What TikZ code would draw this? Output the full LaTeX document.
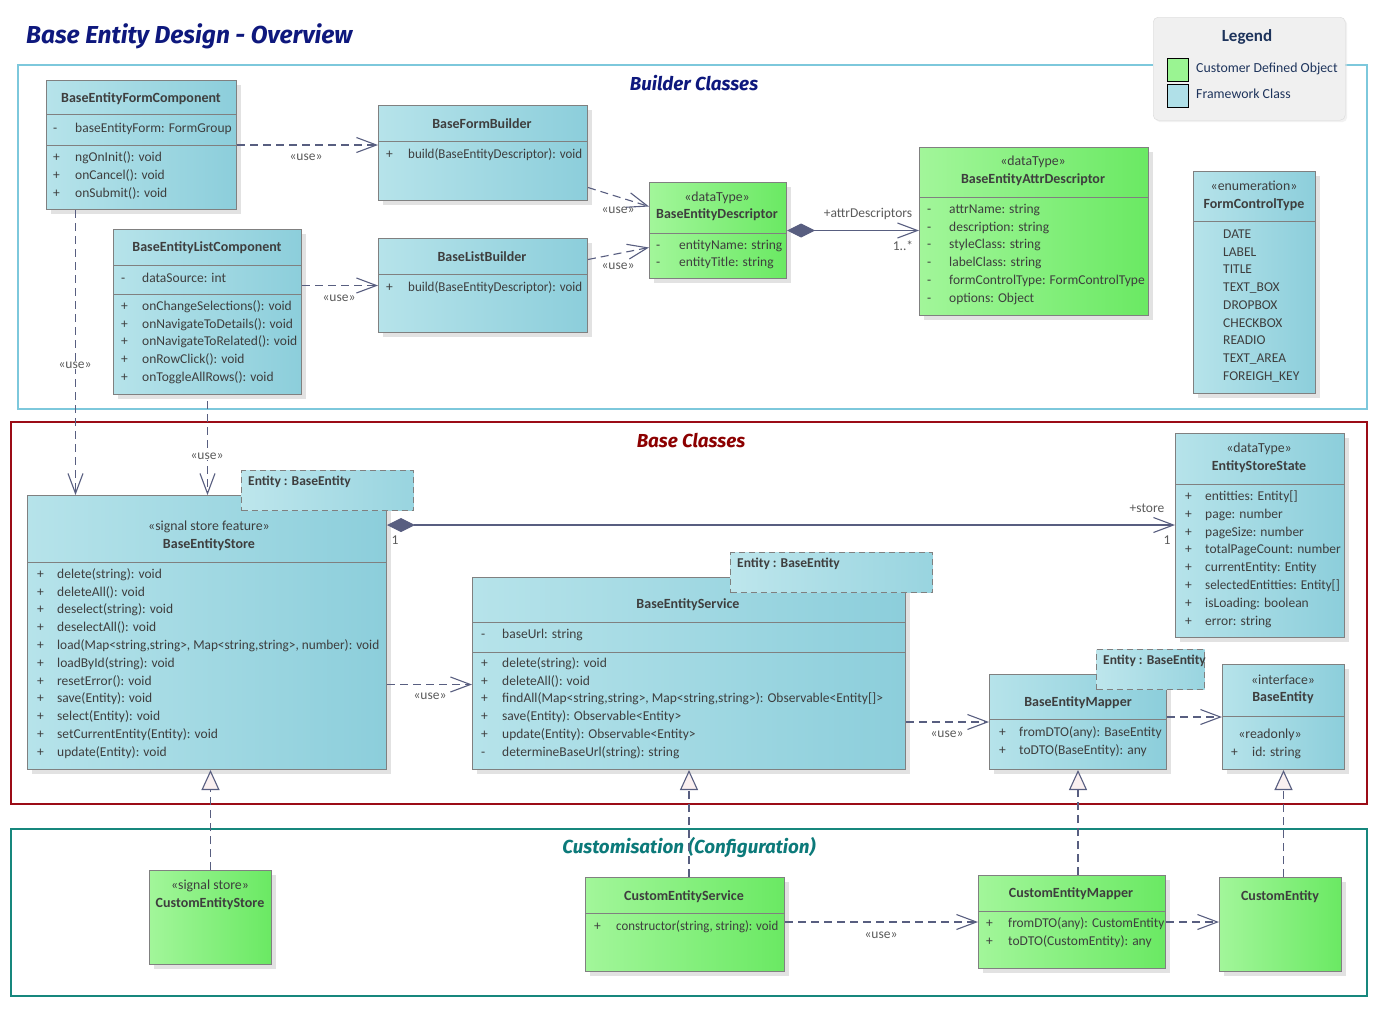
\documentclass[tikz,border=0pt]{standalone}
\usepackage{fontspec}
\setmainfont{Carlito}
\newfontfamily\ttlfont{Fira Sans}
\usetikzlibrary{arrows.meta,shadows}

\definecolor{cyL}{RGB}{182,227,234}
\definecolor{cyR}{RGB}{140,206,219}
\definecolor{grL}{RGB}{162,246,154}
\definecolor{grR}{RGB}{106,233,99}
\definecolor{bord}{RGB}{128,128,128}
\definecolor{txt}{RGB}{62,62,62}
\definecolor{conn}{RGB}{88,94,128}
\definecolor{navy}{RGB}{14,24,125}
\definecolor{legtxt}{RGB}{30,52,92}
\definecolor{frBlue}{RGB}{125,200,220}
\definecolor{frRed}{RGB}{155,12,22}
\definecolor{frTeal}{RGB}{22,135,125}
\definecolor{ttlRed}{RGB}{140,0,0}
\definecolor{ttlTeal}{RGB}{12,122,122}
\definecolor{trif}{RGB}{250,240,240}

% a class box: style, name, x1, y1, x2, y2
\newcommand\umlbox[6]{%
  \pgfmathsetmacro\ww{#5-#3}\pgfmathsetmacro\hh{#6-#4}%
  \node[#1, minimum width=\ww pt, minimum height=\hh pt] (#2) at (#3,#4) {};}
% compartment separator at an offset below the top edge
\newcommand\umlsep[2]{\draw[sepline] ([yshift=-#2pt]#1.north west) -- ([yshift=-#2pt]#1.north east);}
% rows of members: prefix, x marker, x text, y first, spacing, list
\newcommand\umlrows[6]{%
  \foreach [count=\i] \mk/\tx in {#6}{%
    \pgfmathsetmacro\yy{#4+#5*(\i-1)}%
    \node[mem] (#1-k\i) at (#2,\yy) {\mk};
    \node[mem] (#1-t\i) at (#3,\yy) {\tx};
  }}
% slightly condensed member text that has to fit its box
\newcommand\tight[1]{\scalebox{0.96}[1]{#1}}

\begin{document}
\begin{tikzpicture}[x=1pt,y=-1pt,
  cls/.style={draw=bord, line width=1pt, inner sep=0pt, anchor=north west,
    drop shadow={shadow xshift=4pt, shadow yshift=-4pt, fill=black!22}},
  fw/.style={cls, left color=cyL, right color=cyR},
  cu/.style={cls, left color=grL, right color=grR},
  tmpl/.style={draw=bord, line width=1pt, dash pattern=on 6pt off 4pt,
    left color=cyL!90!white, right color=cyR!70!cyL, inner sep=0pt, anchor=north west},
  sepline/.style={draw=bord, line width=1pt},
  mem/.style={font=\fontsize{13.5}{16}\selectfont, text=txt, inner sep=0pt, anchor=west,
    text height=9.5pt, text depth=3pt},
  hd/.style={font=\fontsize{13.8}{16}\selectfont, text=txt, inner sep=0pt,
    text height=9.5pt, text depth=3pt},
  hdb/.style={hd, font=\fontsize{14}{16}\selectfont\bfseries},
  lbl/.style={font=\fontsize{13.5}{15}\selectfont, text=txt!85!white, inner sep=1pt},
  frame/.style={line width=1.2pt},
  ttl/.style={font=\ttlfont\bfseries\itshape\fontsize{18.8}{22}\selectfont, inner sep=0pt},
  use/.style={draw=conn, line width=1.1pt, dash pattern=on 8pt off 5pt,
    -{Straight Barb[length=20pt,width=15pt]}},
  realize/.style={draw=conn, line width=1.1pt, dash pattern=on 8pt off 5pt,
    -{Triangle[length=20pt,width=18pt,fill=trif]}},
  compose/.style={draw=conn, line width=1.1pt,
    {Diamond[length=28pt,width=14pt,fill=conn]}-{Straight Barb[length=20pt,width=15pt]}},
]
\useasboundingbox[fill=white] (0,0) rectangle (1381,1012);

% ---------- title and packages ----------
\node[ttl, anchor=west, text=navy, font=\ttlfont\bfseries\itshape\fontsize{24.5}{28}\selectfont]
  (title) at (26,36) {Base Entity Design - Overview};

\draw[frame, frBlue] (18,65) rectangle (1367,409);
\node[ttl, text=navy] (ttlBuilder) at (694,83) {Builder Classes};
\draw[frame, frRed] (11,422) rectangle (1367,804);
\node[ttl, text=ttlRed] (ttlBase) at (691,441) {Base Classes};
\draw[frame, frTeal] (11,829) rectangle (1367,996);
\node[ttl, text=ttlTeal] (ttlCustom) at (689,848) {Customisation (Configuration)};

% ---------- legend ----------
\node[draw=black!15, fill=black!6, rounded corners=5pt, inner sep=0pt, anchor=north west,
  minimum width=192pt, minimum height=103pt,
  drop shadow={shadow xshift=2pt, shadow yshift=-2pt, fill=black!10}] (legend) at (1153,17) {};
\node[hdb, text=legtxt, font=\fontsize{17}{19}\selectfont\bfseries] (legTitle) at (1247,38) {Legend};
\node[draw=black, line width=1pt, fill=grL!85!grR, inner sep=0pt, anchor=north west,
  minimum width=21pt, minimum height=23pt] (legGreen) at (1167,58) {};
\node[draw=black, line width=1pt, fill=cyL!85!cyR, inner sep=0pt, anchor=north west,
  minimum width=21pt, minimum height=23pt] (legCyan) at (1167,84) {};
\node[mem, text=legtxt, font=\fontsize{13.8}{16}\selectfont] (legGreenT) at (1196,69) {Customer Defined Object};
\node[mem, text=legtxt, font=\fontsize{13.8}{16}\selectfont] (legCyanT) at (1196,95) {Framework Class};

% ---------- builder classes ----------
\umlbox{fw}{fcomp}{46}{80}{236}{209}
\umlsep{fcomp}{34}\umlsep{fcomp}{65}
\node[hdb] (fcomp-n) at (141,99) {BaseEntityFormComponent};
\umlrows{fcompA}{53}{75}{129}{18}{-/baseEntityForm: FormGroup}
\umlrows{fcompM}{53}{75}{158}{18}{+/ngOnInit(): void,+/onCancel(): void,+/onSubmit(): void}

\umlbox{fw}{fbuild}{378}{105}{587}{200}
\umlsep{fbuild}{36}
\node[hdb] (fbuild-n) at (482,125) {BaseFormBuilder};
\umlrows{fbuildM}{386}{408}{155}{18}{+/{\tight{build(BaseEntityDescriptor): void}}}

\umlbox{fw}{lcomp}{113}{229}{301}{394}
\umlsep{lcomp}{36}\umlsep{lcomp}{65}
\node[hdb] (lcomp-n) at (207,248) {BaseEntityListComponent};
\umlrows{lcompA}{121}{142}{279}{18}{-/dataSource: int}
\umlrows{lcompM}{121}{142}{307}{17.8}{+/onChangeSelections(): void,+/onNavigateToDetails(): void,
  +/onNavigateToRelated(): void,+/onRowClick(): void,+/onToggleAllRows(): void}

\umlbox{fw}{lbuild}{378}{238}{587}{332}
\umlsep{lbuild}{36}
\node[hdb] (lbuild-n) at (482,258) {BaseListBuilder};
\umlrows{lbuildM}{386}{408}{288}{18}{+/{\tight{build(BaseEntityDescriptor): void}}}

\umlbox{cu}{desc}{649}{182}{786}{278}
\umlsep{desc}{51}
\node[hd] (desc-s) at (717,198) {«dataType»};
\node[hdb] (desc-n) at (717,215) {BaseEntityDescriptor};
\umlrows{descA}{656}{679}{246}{17.2}{-/entityName: string,-/entityTitle: string}

\umlbox{cu}{attr}{919}{147}{1148}{315}
\umlsep{attr}{50}
\node[hd] (attr-s) at (1033,162) {«dataType»};
\node[hdb] (attr-n) at (1033,180) {BaseEntityAttrDescriptor};
\umlrows{attrA}{927}{949}{210}{17.8}{-/attrName: string,-/description: string,-/styleClass: string,
  -/labelClass: string,-/formControlType: FormControlType,-/options: Object}

\umlbox{fw}{fct}{1193}{171}{1315}{393}
\umlsep{fct}{50}
\node[hd] (fct-s) at (1254,187) {«enumeration»};
\node[hdb] (fct-n) at (1254,205) {FormControlType};
\umlrows{fctL}{1200}{1223}{235}{17.75}{/DATE,/LABEL,/TITLE,/TEXT\_BOX,/DROPBOX,/CHECKBOX,/READIO,
  /TEXT\_AREA,/FOREIGH\_KEY}

% ---------- base classes ----------
\umlbox{fw}{store}{27}{495}{386}{769}
\umlsep{store}{67}
\node[hd] (store-s) at (209,527) {«signal store feature»};
\node[hdb] (store-n) at (209,545) {BaseEntityStore};
\umlrows{storeM}{37}{57}{575}{17.8}{+/delete(string): void,+/deleteAll(): void,+/deselect(string): void,
  +/deselectAll(): void,+/{\scalebox{0.985}[1]{load(Map<string,string>, Map<string,string>, number): void}},
  +/loadById(string): void,+/resetError(): void,+/save(Entity): void,+/select(Entity): void,
  +/setCurrentEntity(Entity): void,+/update(Entity): void}
\umlbox{tmpl}{tstore}{241}{470}{413}{510}
\node[mem, font=\fontsize{13.5}{16}\selectfont\bfseries] (tstore-t) at (248,482) {Entity : BaseEntity};

\umlbox{fw}{state}{1175}{433}{1344}{637}
\umlsep{state}{51}
\node[hd] (state-s) at (1259,449) {«dataType»};
\node[hdb] (state-n) at (1259,467) {EntityStoreState};
\umlrows{stateA}{1185}{1205}{497}{17.9}{+/entitties: Entity[],+/page: number,+/pageSize: number,
  +/totalPageCount: number,+/currentEntity: Entity,+/{\scalebox{0.975}[1]{selectedEntitties: Entity[]}},
  +/isLoading: boolean,+/error: string}

\umlbox{fw}{svc}{472}{577}{905}{769}
\umlsep{svc}{45}\umlsep{svc}{75}
\node[hdb] (svc-n) at (688,605) {BaseEntityService};
\umlrows{svcA}{481}{502}{635}{18}{-/baseUrl: string}
\umlrows{svcM}{481}{502}{664}{17.8}{+/delete(string): void,+/deleteAll(): void,
  +/{findAll(Map<string,string>, Map<string,string>): Observable<Entity[]>},
  +/save(Entity): Observable<Entity>,+/update(Entity): Observable<Entity>,
  -/determineBaseUrl(string): string}
\umlbox{tmpl}{tsvc}{730}{552}{932}{592}
\node[mem, font=\fontsize{13.5}{16}\selectfont\bfseries] (tsvc-t) at (737,564) {Entity : BaseEntity};

\umlbox{fw}{mapper}{989}{674}{1166}{769}
\umlsep{mapper}{45}
\node[hdb] (mapper-n) at (1078,703) {BaseEntityMapper};
\umlrows{mapperM}{999}{1019}{733}{18}{+/fromDTO(any): BaseEntity,+/toDTO(BaseEntity): any}
\umlbox{tmpl}{tmap}{1096}{649}{1204}{689}
\node[mem, font=\fontsize{13.5}{16}\selectfont\bfseries] (tmap-t) at (1103,661) {Entity : BaseEntity};

\umlbox{fw}{bent}{1222}{664}{1344}{769}
\umlsep{bent}{52}
\node[hd] (bent-s) at (1283,681) {«interface»};
\node[hdb] (bent-n) at (1283,698) {BaseEntity};
\node[hd] (bent-r) at (1270,735) {«readonly»};
\umlrows{bentA}{1231}{1252}{753}{18}{+/id: string}

% ---------- customisation ----------
\umlbox{cu}{cstore}{149}{870}{271}{964}
\node[hd] (cstore-s) at (210,886) {«signal store»};
\node[hdb] (cstore-n) at (210,904) {CustomEntityStore};

\umlbox{cu}{csvc}{585}{877}{784}{971}
\umlsep{csvc}{36}
\node[hdb] (csvc-n) at (684,897) {CustomEntityService};
\umlrows{csvcM}{594}{616}{927}{18}{+/{\scalebox{0.95}[1]{constructor(string, string): void}}}

\umlbox{cu}{cmap}{978}{875}{1165}{968}
\umlsep{cmap}{36}
\node[hdb] (cmap-n) at (1071,894) {CustomEntityMapper};
\umlrows{cmapM}{986}{1008}{924}{18}{+/{\scalebox{0.985}[1]{fromDTO(any): CustomEntity}},+/toDTO(CustomEntity): any}

\umlbox{cu}{cent}{1219}{877}{1341}{971}
\node[hdb] (cent-n) at (1280,897) {CustomEntity};

% ---------- connectors ----------
\draw[use] (fcomp.east) -- (fbuild.west |- fcomp.east);
\node[lbl] (u1) at (306,157) {«use»};
\draw[use] (lcomp.east |- lbuild.west) -- (lbuild.west);
\node[lbl] (u2) at (339,298) {«use»};
\draw[use] ([yshift=-34.5pt]fbuild.east) -- ([yshift=24pt]desc.west);
\node[lbl] (u3) at (618,210) {«use»};
\draw[use] ([yshift=26pt]lbuild.east) -- ([yshift=-17pt]desc.west);
\node[lbl] (u4) at (618,266) {«use»};
\draw[compose] (desc.east) -- (attr.west |- desc.east);
\node[lbl] (a1) at (868,214) {+attrDescriptors};
\node[lbl] (a2) at (903,246) {1..*};

\coordinate (fcX) at ([xshift=-66pt]fcomp.south);
\draw[use] (fcX) -- (fcX |- store.north);
\node[lbl, fill=white] (u5) at (75,365) {«use»};
\coordinate (lcX) at ([yshift=-6pt]lcomp.south);
\draw[use] (lcX) -- (lcX |- store.north);
\node[lbl, fill=white] (u6) at (207,456) {«use»};

\coordinate (stA) at ([yshift=-30pt]store.north east);
\draw[compose] (stA) -- (state.west |- stA);
\node[lbl] (s1) at (395,540) {1};
\node[lbl] (s2) at (1147,508) {+store};
\node[lbl] (s3) at (1167,540) {1};

\coordinate (svA) at ([yshift=-11pt]svc.west);
\draw[use] (store.east |- svA) -- (svA);
\node[lbl] (u7) at (430,696) {«use»};
\draw[use] (svc.east |- mapper.west) -- (mapper.west);
\node[lbl] (u8) at (947,734) {«use»};
\draw[use] (mapper.east |- bent.west) -- (bent.west);

\draw[realize] (cstore.north) -- (cstore.north |- store.south);
\draw[realize] (csvc.north -| svc.south) -- (svc.south);
\draw[realize] (cmap.north -| mapper.south) -- (mapper.south);
\draw[realize] (cent.north -| bent.south) -- (bent.south);

\draw[use] (csvc.east |- cmap.west) -- (cmap.west);
\node[lbl] (u9) at (881,935) {«use»};
\draw[use] (cmap.east) -- (cent.west |- cmap.east);
\end{tikzpicture}
\end{document}
